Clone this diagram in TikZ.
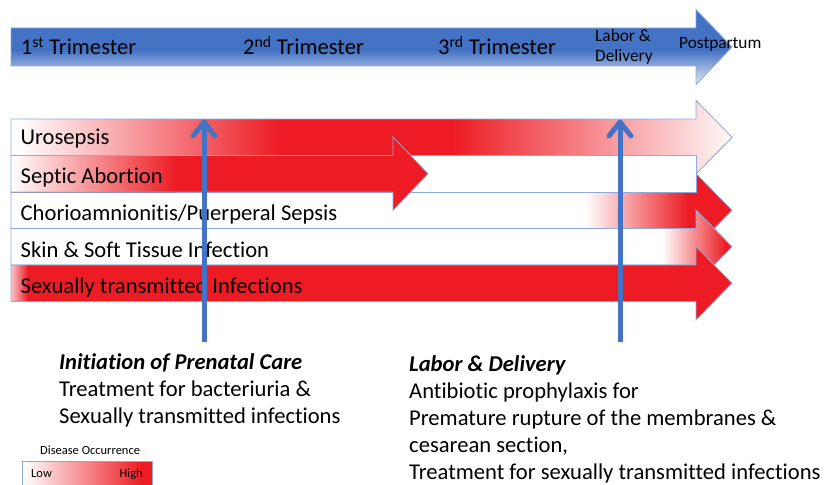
\documentclass[tikz,border=0pt]{standalone}
\usepackage{fontspec}
\setmainfont{Carlito}[Ligatures={NoCommon}]
\usetikzlibrary{arrows.meta}
\definecolor{rred}{HTML}{ED1C24}
\definecolor{oline}{HTML}{8FAADC}
\definecolor{bblue}{HTML}{4472C4}
\definecolor{lblue}{HTML}{E6ECF7}
\begin{document}
\begin{tikzpicture}[x=1pt,y=-1pt,
  arr/.style n args={4}{insert path={(#1,#2) -- (#3,#2) -- (#3,#2-18.5) -- (#4,#2+18.25) -- (#3,#2+55) -- (#3,#2+36.5) -- (#1,#2+36.5) -- cycle}},
  outl/.style={draw=oline, line width=0.8pt},
  lbl/.style={anchor=base west, inner sep=0pt, font=\fontsize{22.6}{27}\selectfont},
  small/.style={anchor=base west, inner sep=0pt, font=\fontsize{17.3}{20}\selectfont},
  tiny/.style={inner sep=0pt, font=\fontsize{12.5}{15}\selectfont},
  varr/.style={draw=bblue, line width=5pt, -{Straight Barb[length=14pt,width=22pt,round]}}]
\useasboundingbox (0,0) rectangle (826,484);
\clip (0,0) rectangle (826,484);

% ---- top timeline arrow
\begin{scope}
\clip (11,28) -- (696,28) -- (696,9.5) -- (732,47) -- (696,84.5) -- (696,66) -- (11,66) -- cycle;
\fill[bblue] (0,0) rectangle (740,50);
\fill[top color=bblue,bottom color=lblue] (0,50) rectangle (740,85);
\end{scope}
\draw[outl] (11,28) -- (696,28) -- (696,9.5) -- (732,47) -- (696,84.5) -- (696,66) -- (11,66) -- cycle;

\node[lbl] (t1) at (20.7,55) {1\textsuperscript{st} Trimester};
\node[lbl] (t2) at (243,55) {2\textsuperscript{nd} Trimester};
\node[lbl] (t3) at (438,55) {3\textsuperscript{rd} Trimester};
\node[small] (ld1) at (595,42) {Labor \&};
\node[small] (ld2) at (595,62) {Delivery};
\node[small] (pp) at (679,49) {Postpartum};

% ---- row: Urosepsis
\begin{scope}
\clip[arr={11}{119}{696}{732}];
\fill[white] (0,90) rectangle (740,180);
\fill[left color=white,right color=rred] (18,90) rectangle (280,180);
\fill[rred] (279,90) rectangle (454,180);
\fill[left color=rred,right color=white] (453,90) rectangle (740,180);
\end{scope}
\draw[outl, arr={11}{119}{696}{732}];

% ---- row: Chorioamnionitis
\begin{scope}
\clip[arr={11}{192}{696}{732}];
\fill[white] (0,170) rectangle (740,250);
\fill[left color=white,right color=rred] (585,170) rectangle (688,250);
\fill[rred] (687,170) rectangle (740,250);
\end{scope}
\draw[outl, arr={11}{192}{696}{732}];

% ---- row: Skin
\begin{scope}
\clip[arr={11}{228.5}{696}{732}];
\fill[white] (0,205) rectangle (740,290);
\fill[left color=white,right color=rred] (662,205) rectangle (726,290);
\fill[rred] (725,205) rectangle (740,290);
\end{scope}
\draw[outl, arr={11}{228.5}{696}{732}];

% ---- row: STI
\begin{scope}
\clip[arr={11}{265}{696}{732}];
\fill[rred] (0,240) rectangle (740,325);
\fill[left color=rred!25,right color=rred] (11,240) rectangle (28,325);
\end{scope}
\draw[outl, arr={11}{265}{696}{732}];

% ---- row: Septic abortion (box + short arrow)
\draw[outl, fill=white] (11,155.5) rectangle (696,192);
\begin{scope}
\clip[arr={11}{155.5}{393}{428}];
\fill[rred] (0,130) rectangle (440,215);
\fill[left color=white,right color=rred] (11,130) rectangle (176,215);
\end{scope}
\draw[outl, arr={11}{155.5}{393}{428}];

% ---- row labels
\node[lbl] (r1) at (20.5,144) {Urosepsis};
\node[lbl] (r2) at (20.5,183) {Septic Abortion};
\node[lbl] (r3) at (20.5,220) {Chorioamnionitis/Puerperal Sepsis};
\node[lbl] (r4) at (20.5,257) {Skin \& Soft Tissue Infection};
\node[lbl] (r5) at (20.5,293) {Sexually transmitted Infections};

% ---- vertical arrows
\coordinate (lb) at (204,342);
\coordinate (lt) at (204,119.5);
\coordinate (rb) at (620,342);
\coordinate (rt) at (620,119.5);
\draw[varr] (lb) -- (lt);
\draw[varr] (rb) -- (rt);

% ---- bottom texts
\node[lbl, font=\fontsize{22.6}{27}\selectfont\bfseries\itshape] (pc) at (59,369) {Initiation of Prenatal Care};
\node[lbl] (pc1) at (59,396) {Treatment for bacteriuria \&};
\node[lbl] (pc2) at (59,423) {Sexually transmitted infections};

\node[lbl, font=\fontsize{22.6}{27}\selectfont\bfseries\itshape] (ldh) at (409,371) {Labor \& Delivery};
\node[lbl] (ld3) at (409,398) {Antibiotic prophylaxis for};
\node[lbl] (ld4) at (409,425) {Premature rupture of the membranes \&};
\node[lbl] (ld5) at (409,452) {cesarean section,};
\node[lbl] (ld6) at (409,479) {Treatment for sexually transmitted infections};

% ---- legend
\node[tiny, anchor=base west] (dh) at (40,454) {Disease Occurrence};
\fill[white] (22,461) rectangle (152,495);
\fill[left color=white,right color=rred] (23,461) rectangle (142,495);
\fill[rred] (141,461) rectangle (152,495);
\draw[outl] (22,495) -- (22,461) -- (152,461) -- (152,495);
\node[tiny, anchor=base west] (lo) at (31,477) {Low};
\node[tiny, anchor=base east] (hi) at (143,477) {High};
\end{tikzpicture}
\end{document}
